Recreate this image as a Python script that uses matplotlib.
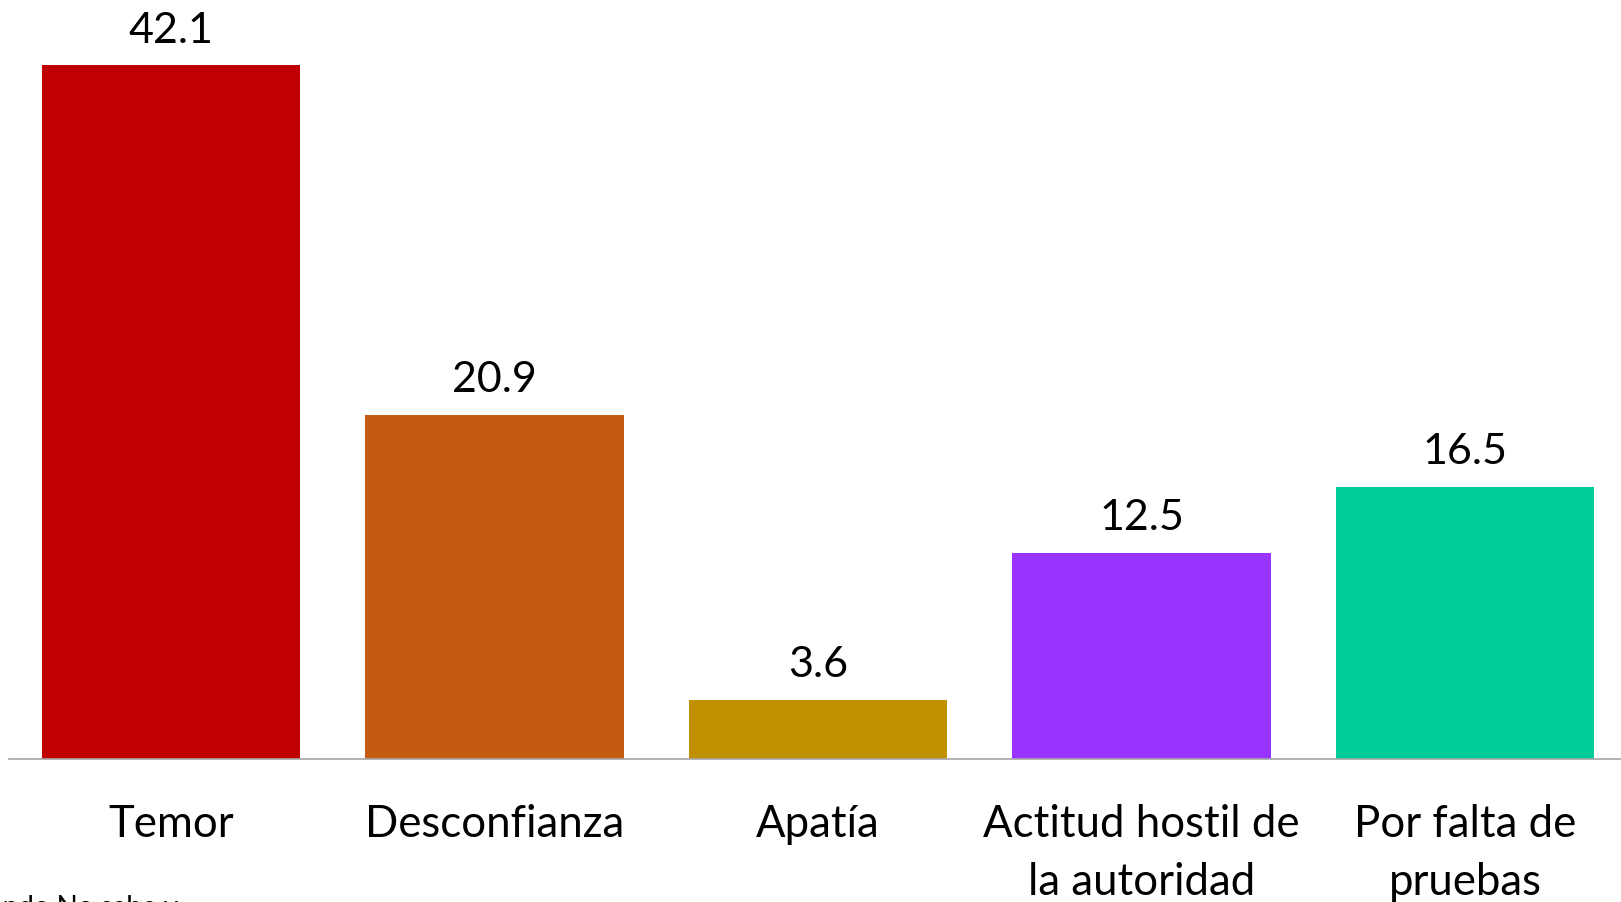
import matplotlib
matplotlib.use("Agg")
import matplotlib.pyplot as plt

categories = ["Temor", "Desconfianza", "Apatía", "Actitud hostil de\nla autoridad", "Por falta de\npruebas"]
values = [42.1, 20.9, 3.6, 12.5, 16.5]
colors = ["#C00000", "#C55A11", "#BF9000", "#9933FF", "#00CC99"]

plt.rcParams["font.family"] = ["Lato", "DejaVu Sans"]

fig = plt.figure(figsize=(16.21, 9.03), dpi=100)
ax = fig.add_axes([9.25 / 1621, 143 / 903, 1617.5 / 1621, 760 / 903])

x = list(range(len(categories)))
ax.bar(x, values, width=0.8, color=colors)
ax.set_xlim(-0.5, 4.5)
ax.set_ylim(0, 46.12)

for xi, v in zip(x, values):
    ax.annotate(f"{v:.1f}", (xi, v), xytext=(0, 12), textcoords="offset points",
                ha="center", va="bottom", fontsize=31)

ax.set_xticks(x)
ax.set_xticklabels(categories, fontsize=31.5, linespacing=1.5)
ax.tick_params(axis="x", length=0, pad=32)
ax.set_yticks([])
for s in ("top", "right", "left"):
    ax.spines[s].set_visible(False)
ax.spines["bottom"].set_color("#A6A6A6")
ax.spines["bottom"].set_linewidth(1.2)

# footnote cut off by the bottom edge, as in the source
fig.text(-0.008, 8 / 903, "ondo No sabe y...", fontsize=20, va="top", ha="left")

fig.savefig("out.png", dpi=100)
